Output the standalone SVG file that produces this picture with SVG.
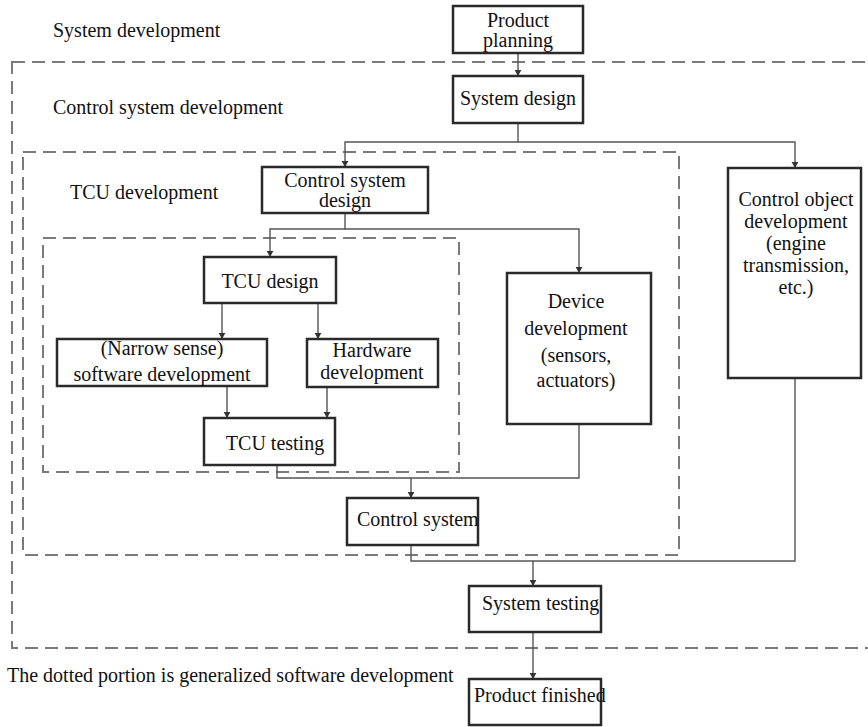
<svg xmlns="http://www.w3.org/2000/svg" width="868" height="727" viewBox="0 0 868 727">
  <style>
    text { font-family: "Liberation Serif", "Times New Roman", serif; font-size: 20px; fill: #111; }
    .c { text-anchor: middle; }
    .box { fill: #fff; stroke: #2a2a2a; stroke-width: 2.5; }
    .zone { fill: none; stroke: #7a7a7a; stroke-width: 2; stroke-dasharray: 13 7; }
    .wire { fill: none; stroke: #555; stroke-width: 1.4; }
  </style>
  <defs>
    <marker id="arrow" viewBox="0 0 8 12" refX="8" refY="6" markerWidth="6" markerHeight="9" markerUnits="userSpaceOnUse" orient="auto">
      <path d="M0,1.5 L8,6 L0,10.5 Z" fill="#333"/>
    </marker>
  </defs>
  <rect width="868" height="727" fill="#fff"/>

  <!-- dashed development zones -->
  <g id="zones">
    <rect class="zone" x="12" y="62" width="870" height="586"/>
    <rect class="zone" x="23" y="152" width="656" height="403"/>
    <rect class="zone" x="43" y="238" width="416" height="234"/>
  </g>

  <!-- zone captions -->
  <g id="captions">
    <text x="53" y="37">System development</text>
    <text x="53" y="114">Control system development</text>
    <text x="70" y="199">TCU development</text>
    <text x="7" y="682">The dotted portion is generalized software development</text>
  </g>

  <!-- connectors -->
  <g id="connectors">
    <path class="wire" d="M518,53 V76" marker-end="url(#arrow)"/>
    <path class="wire" d="M518,123 V142 H345 V167" marker-end="url(#arrow)"/>
    <path class="wire" d="M518,142 H795 V168" marker-end="url(#arrow)"/>
    <path class="wire" d="M345,213 V229 H270 V257" marker-end="url(#arrow)"/>
    <path class="wire" d="M345,229 H579 V273" marker-end="url(#arrow)"/>
    <path class="wire" d="M222,303 V339" marker-end="url(#arrow)"/>
    <path class="wire" d="M318,303 V339" marker-end="url(#arrow)"/>
    <path class="wire" d="M227,386 V418" marker-end="url(#arrow)"/>
    <path class="wire" d="M327,387 V418" marker-end="url(#arrow)"/>
    <path class="wire" d="M277,465 V478 H579 V424"/>
    <path class="wire" d="M411,478 V498" marker-end="url(#arrow)"/>
    <path class="wire" d="M411,545 V561 H795 V378"/>
    <path class="wire" d="M533,561 V586" marker-end="url(#arrow)"/>
    <path class="wire" d="M533,632 V679" marker-end="url(#arrow)"/>
  </g>

  <g id="product-planning">
    <rect class="box" x="453" y="6" width="130" height="47"/>
    <text class="c" x="518" y="27">Product</text>
    <text class="c" x="518" y="47">planning</text>
  </g>

  <g id="system-design">
    <rect class="box" x="453" y="76" width="130" height="47"/>
    <text class="c" x="518" y="105">System design</text>
  </g>

  <g id="control-system-design">
    <rect class="box" x="262" y="167" width="166" height="46"/>
    <text class="c" x="345" y="187">Control system</text>
    <text class="c" x="345" y="207">design</text>
  </g>

  <g id="tcu-design">
    <rect class="box" x="204" y="257" width="132" height="46"/>
    <text class="c" x="270" y="288">TCU design</text>
  </g>

  <g id="software-development">
    <rect class="box" x="57" y="339" width="210" height="47"/>
    <text class="c" x="162" y="355">(Narrow sense)</text>
    <text class="c" x="162" y="381">software development</text>
  </g>

  <g id="hardware-development">
    <rect class="box" x="307" y="339" width="131" height="48"/>
    <text class="c" x="372" y="357">Hardware</text>
    <text class="c" x="372" y="379">development</text>
  </g>

  <g id="tcu-testing">
    <rect class="box" x="204" y="418" width="131" height="47"/>
    <text class="c" x="275" y="450">TCU testing</text>
  </g>

  <g id="device-development">
    <rect class="box" x="507" y="273" width="144" height="151"/>
    <text class="c" x="576" y="308">Device</text>
    <text class="c" x="576" y="335">development</text>
    <text class="c" x="576" y="362">(sensors,</text>
    <text class="c" x="576" y="387">actuators)</text>
  </g>

  <g id="control-object-development">
    <rect class="box" x="728" y="168" width="133" height="210"/>
    <text class="c" x="796" y="206">Control object</text>
    <text class="c" x="796" y="228">development</text>
    <text class="c" x="796" y="250">(engine</text>
    <text class="c" x="796" y="272">transmission,</text>
    <text class="c" x="796" y="294">etc.)</text>
  </g>

  <g id="control-system">
    <rect class="box" x="347" y="498" width="131" height="47"/>
    <text x="357" y="526">Control system</text>
  </g>

  <g id="system-testing">
    <rect class="box" x="469" y="586" width="132" height="46"/>
    <text x="482" y="610">System testing</text>
  </g>

  <g id="product-finished">
    <rect class="box" x="469" y="679" width="132" height="46"/>
    <text x="474" y="702">Product finished</text>
  </g>
</svg>
